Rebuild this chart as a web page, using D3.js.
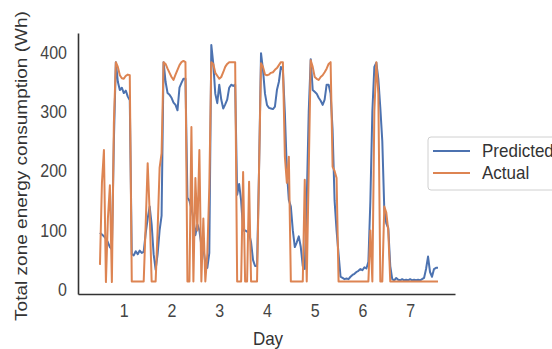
<!DOCTYPE html>
<html>
<head>
<meta charset="utf-8">
<script src="https://cdn.jsdelivr.net/npm/d3@7"></script>
<style>
  body { margin: 0; background: #fff; }
  svg { display: block; }
  text { font-family: "Liberation Sans", Arial, sans-serif; }
</style>
</head>
<body>
<svg id="chart" width="552" height="349"></svg>
<script>
// hourly readings, first point at day 0.5
var startDay = 0.5;
var actual = [
  42, 180, 235, 13, 120, 176, 13, 280, 383, 375,
  361, 356, 355, 360, 362, 361, 14, 14, 14, 14,
  14, 14, 14, 110, 213, 130, 14, 14, 14, 100,
  205, 230, 383, 380, 372, 365, 358, 353, 362, 370,
  378, 383, 385, 383, 14, 14, 274, 14, 188, 100,
  235, 14, 120, 14, 60, 173, 383, 380, 365, 360,
  355, 358, 366, 375, 380, 383, 383, 383, 383, 14,
  14, 14, 198, 14, 14, 182, 14, 14, 14, 14,
  200, 381, 375, 362, 361, 362, 365, 366, 370, 373,
  378, 383, 383, 224, 180, 224, 14, 14, 14, 14,
  14, 14, 14, 185, 14, 200, 386, 375, 358, 355,
  353, 358, 361, 366, 372, 380, 383, 207, 200, 188,
  14, 14, 14, 14, 14, 14, 14, 14, 14, 14,
  14, 14, 14, 14, 14, 14, 100, 14, 300, 383,
  330, 14, 14, 140, 130, 100, 14, 14, 14, 14,
  14, 14, 14, 14, 14, 14, 14, 14, 14, 14,
  14, 14, 14, 14, 14, 14, 14, 14, 14, 14,
  14
];
var predicted = [
  96, 93, 90, 86, 80, 72, 68, 250, 383, 350,
  336, 340, 331, 335, 325, 319, 60, 58, 65, 60,
  66, 62, 64, 95, 120, 140, 110, 60, 34, 60,
  100, 125, 383, 350, 331, 328, 323, 315, 311, 302,
  340, 348, 355, 355, 155, 150, 137, 120, 92, 110,
  100, 75, 70, 45, 37, 62, 412, 380, 330, 314,
  345, 320, 305, 312, 320, 340, 345, 343, 345, 160,
  178, 150, 100, 100, 98, 95, 80, 50, 40, 40,
  200, 398, 370, 330, 311, 306, 305, 304, 308, 336,
  350, 375, 370, 297, 200, 151, 140, 100, 72, 80,
  90, 72, 40, 35, 150, 300, 388, 336, 333, 330,
  323, 318, 311, 320, 345, 345, 330, 269, 150, 100,
  60, 22, 20, 18, 19, 18, 22, 25, 27, 30,
  32, 35, 33, 38, 36, 47, 150, 300, 375, 382,
  355, 306, 250, 135, 112, 104, 40, 18, 16, 20,
  17, 16, 18, 16, 17, 16, 18, 16, 17, 16,
  17, 16, 18, 20, 35, 56, 30, 22, 35, 37,
  37
];
var dayTicks = [1, 2, 3, 4, 5, 6, 7];
var valueTicks = [0, 100, 200, 300, 400];
var seriesNames = ["Predicted", "Actual"];
var seriesColors = ["#4c72b0", "#dd8452"];

var svg = d3.select("#chart");
var plotLeft = 78, plotRight = 455, plotTop = 33, plotBottom = 294;
var stretch = 1.1; // the picture is a little taller than wide

var x = d3.scaleLinear().domain([0.04, 7.94]).range([plotLeft, plotRight]);
var y = d3.scaleLinear().domain([-7, 432]).range([plotBottom, plotTop]);

function rows(vals) {
  return vals.map(function(v, i) { return { day: startDay + i / 24, v: v }; });
}

var line = d3.line()
  .x(function(d) { return x(d.day); })
  .y(function(d) { return y(d.v); });

// actual drawn on top of predicted
[predicted, actual].forEach(function(vals, k) {
  svg.append("path")
    .datum(rows(vals))
    .attr("fill", "none")
    .attr("stroke", seriesColors[k])
    .attr("stroke-width", 2)
    .attr("stroke-linejoin", "round")
    .attr("d", line);
});

// axes: only left and bottom spines, no tick marks
var xAxis = svg.append("g")
  .attr("transform", "translate(0," + plotBottom + ")")
  .call(d3.axisBottom(x).tickValues(dayTicks).tickSize(0).tickPadding(0));
var yAxis = svg.append("g")
  .attr("transform", "translate(" + plotLeft + ",0)")
  .call(d3.axisLeft(y).tickValues(valueTicks).tickSize(0).tickPadding(0));

[xAxis, yAxis].forEach(function(g) {
  g.select(".domain").attr("stroke", "#333").attr("stroke-width", 1.6);
  g.selectAll("text").remove();
});

xAxis.selectAll(".tick").append("text")
  .attr("transform", "translate(0,23) scale(1," + stretch + ")")
  .attr("text-anchor", "middle")
  .attr("fill", "#444")
  .style("font-size", "16px")
  .text(function(d) { return d; });

yAxis.selectAll(".tick").append("text")
  .attr("transform", "translate(-11,6) scale(1," + stretch + ")")
  .attr("text-anchor", "end")
  .attr("fill", "#444")
  .style("font-size", "16px")
  .text(function(d) { return d; });

svg.append("text")
  .attr("transform", "translate(268,345) scale(1," + stretch + ")")
  .attr("text-anchor", "middle")
  .attr("fill", "#333")
  .style("font-size", "17px")
  .text("Day");

svg.append("text")
  .attr("transform", "translate(27,166) rotate(-90) scale(1.12,1)")
  .attr("text-anchor", "middle")
  .attr("fill", "#333")
  .style("font-size", "17px")
  .text("Total zone energy consumption (Wh)");

// legend
var legend = svg.append("g").attr("transform", "translate(428,137)");
legend.append("rect")
  .attr("width", 140).attr("height", 53)
  .attr("rx", 3)
  .attr("fill", "#fff")
  .attr("stroke", "#d0d0d0");
seriesNames.forEach(function(name, k) {
  var ly = 14 + k * 22;
  legend.append("line")
    .attr("x1", 5).attr("x2", 42)
    .attr("y1", ly).attr("y2", ly)
    .attr("stroke", seriesColors[k])
    .attr("stroke-width", 2);
  legend.append("text")
    .attr("transform", "translate(54," + (ly + 6) + ") scale(1," + stretch + ")")
    .attr("fill", "#333")
    .style("font-size", "17px")
    .text(name);
});
</script>
</body>
</html>
